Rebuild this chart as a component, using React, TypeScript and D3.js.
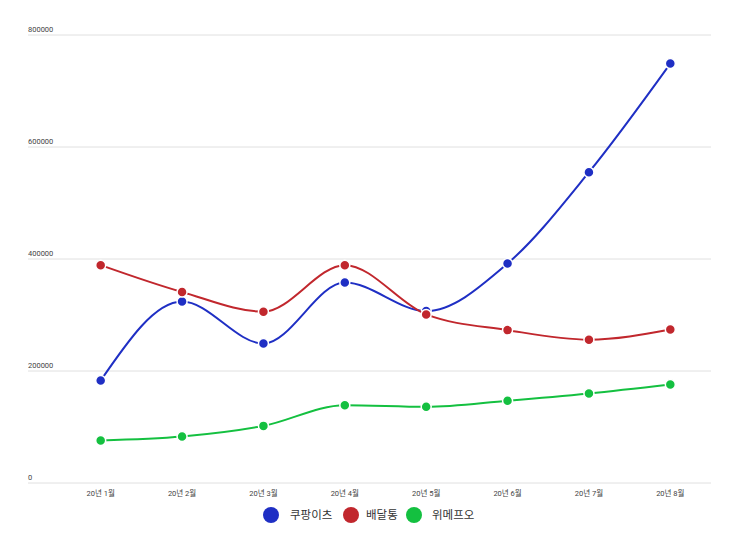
import React from 'react';
import * as d3 from 'd3';

const months = ['20년 1월', '20년 2월', '20년 3월', '20년 4월', '20년 5월', '20년 6월', '20년 7월', '20년 8월'];
const coupangEats = [183000, 324000, 249000, 358000, 307000, 392000, 555000, 749000];
const baedaltong = [389000, 341000, 306000, 389000, 301000, 273000, 256000, 274000];
const wemakepriceO = [76000, 83000, 102000, 139000, 136000, 147000, 160000, 176000];
const yTicks = [0, 200000, 400000, 600000, 800000];

const series = [
  { name: '쿠팡이츠', values: coupangEats, color: '#1f2fc4' },
  { name: '배달통', values: baedaltong, color: '#c1272d' },
  { name: '위메프오', values: wemakepriceO, color: '#14c040' },
];

const W = 747;
const H = 535;
const gridLeft = 20;
const left = 52;
const right = 703;
const top = 27;
const bottom = 475;

const App: React.FC = () => {
  const x = d3.scaleBand<string>().domain(months).range([left, right]);
  const y = d3.scaleLinear().domain([0, 800000]).range([bottom, top]);
  const line = d3.line<number>()
    .x((_, i) => (x(months[i]) || 0) + x.bandwidth() / 2)
    .y(d => y(d))
    .curve(d3.curveMonotoneX);

  // legend positions (relative to the 8px body margin)
  const legend = [
    { cx: 263, tx: 282 },
    { cx: 343, tx: 358 },
    { cx: 406, tx: 424 },
  ];

  return (
    <svg width={W - 16} height={H - 16} style={{ display: 'block', fontFamily: 'Roboto, "Noto Sans CJK KR", sans-serif' }}>
      {yTicks.map(t => (
        <g key={t}>
          <line x1={gridLeft} x2={right} y1={y(t)} y2={y(t)} stroke="#e0e0e0" strokeWidth={1} />
          <text x={gridLeft} y={y(t) - 3} fontSize={7.5} fill="#444">{t}</text>
        </g>
      ))}
      {months.map(m => (
        <text key={m} x={(x(m) || 0) + x.bandwidth() / 2} y={bottom + 13} fontSize={7.5} fill="#444" textAnchor="middle">{m}</text>
      ))}
      {series.map(s => (
        <g key={s.name}>
          <path d={line(s.values) || ''} fill="none" stroke={s.color} strokeWidth={2} />
          {s.values.map((v, i) => (
            <circle key={i} cx={(x(months[i]) || 0) + x.bandwidth() / 2} cy={y(v)} r={5} fill={s.color} stroke="#fff" strokeWidth={1.5} />
          ))}
        </g>
      ))}
      {series.map((s, i) => (
        <g key={'lg' + s.name}>
          <circle cx={legend[i].cx} cy={507} r={8} fill={s.color} />
          <text x={legend[i].tx} y={511} fontSize={11.5} fill="#333">{s.name}</text>
        </g>
      ))}
    </svg>
  );
};

export default App;
